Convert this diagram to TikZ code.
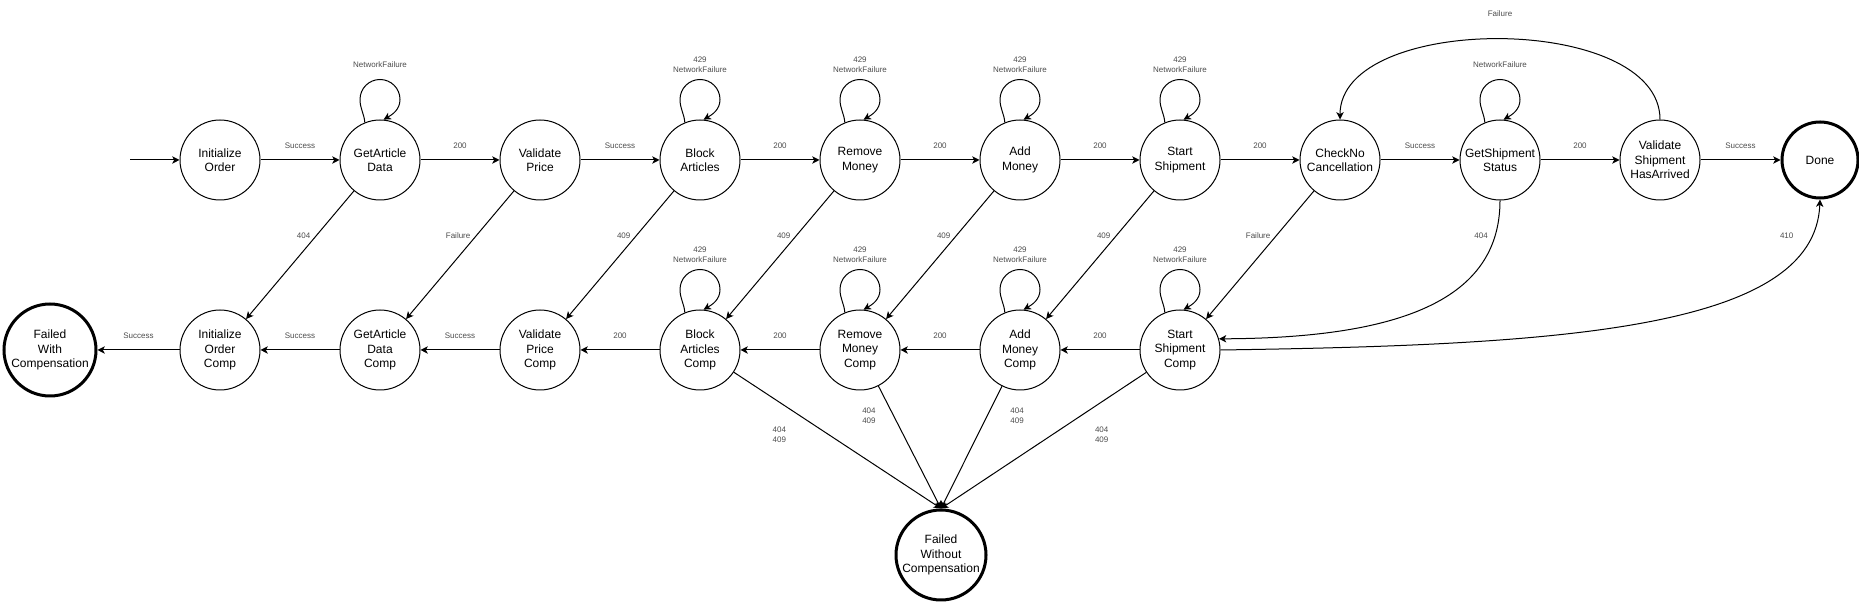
\documentclass[tikz,border=0pt]{standalone}
\usepackage{fontspec}
\setmainfont{Liberation Sans}
\usepackage{tikz}
\usetikzlibrary{arrows.meta}

\begin{document}
\begin{tikzpicture}[x=0.75pt,y=0.75pt,line width=0.75pt,
    state/.style={draw,circle,minimum size=60pt,inner sep=0pt,align=center,font=\fontsize{9}{10.8}\selectfont},
    final/.style={state,line width=2.25pt},
    lbl/.style={font=\fontsize{6}{7.5}\selectfont,text=black!70,align=center,inner sep=1pt},
    >={Stealth[length=5.5pt,width=5.5pt,inset=1.5pt]}]
    \useasboundingbox (0,0) rectangle (1859,602);
    % top row
    \node[state] (1) at (220,442) {Initialize\\Order};
    \node[state] (2) at (380,442) {GetArticle\\Data};
    \node[state] (3) at (540,442) {Validate\\Price};
    \node[state] (4) at (700,442) {Block\\Articles};
    \node[state] (5) at (860,442) {Remove\\Money};
    \node[state] (6) at (1020,442) {Add\\Money};
    \node[state] (7) at (1180,442) {Start\\Shipment};
    \node[state] (8) at (1340,442) {CheckNo\\Cancellation};
    \node[state] (9) at (1500,442) {GetShipment\\Status};
    \node[state] (10) at (1660,442) {Validate\\Shipment\\HasArrived};
    \node[final,minimum size=57pt] (11) at (1820,442) {Done};
    % bottom row
    \node[final,minimum size=69pt] (12) at (50,252) {Failed\\With\\Compensation};
    \node[state] (13) at (220,252) {Initialize\\Order\\Comp};
    \node[state] (14) at (380,252) {GetArticle\\Data\\Comp};
    \node[state] (15) at (540,252) {Validate\\Price\\Comp};
    \node[state] (16) at (700,252) {Block\\Articles\\Comp};
    \node[state] (17) at (860,252) {Remove\\Money\\Comp};
    \node[state] (18) at (1020,252) {Add\\Money\\Comp};
    \node[state] (19) at (1180,252) {Start\\Shipment\\Comp};
    \node[final,minimum size=67.5pt] (20) at (941,47) {Failed\\Without\\Compensation};
    \coordinate (0) at (130,442);

    \draw[->] (0) -- (1);
    \draw[->] (1) -- node[lbl,yshift=11pt] {Success} (2);
    \draw[->] (2) -- node[lbl,yshift=11pt] {200} (3);
    \draw[->] (3) -- node[lbl,yshift=11pt] {Success} (4);
    \draw[->] (4) -- node[lbl,yshift=11pt] {200} (5);
    \draw[->] (5) -- node[lbl,yshift=11pt] {200} (6);
    \draw[->] (6) -- node[lbl,yshift=11pt] {200} (7);
    \draw[->] (7) -- node[lbl,yshift=11pt] {200} (8);
    \draw[->] (8) -- node[lbl,yshift=11pt] {Success} (9);
    \draw[->] (9) -- node[lbl,yshift=11pt] {200} (10);
    \draw[->] (10) -- node[lbl,yshift=11pt] {Success} (11);

    \draw[->] (13) -- node[lbl,yshift=11pt] {Success} (12);
    \draw[->] (14) -- node[lbl,yshift=11pt] {Success} (13);
    \draw[->] (15) -- node[lbl,yshift=11pt] {Success} (14);
    \draw[->] (16) -- node[lbl,yshift=11pt] {200} (15);
    \draw[->] (17) -- node[lbl,yshift=11pt] {200} (16);
    \draw[->] (18) -- node[lbl,yshift=11pt] {200} (17);
    \draw[->] (19) -- node[lbl,yshift=11pt] {200} (18);

    \draw[->] (2) -- node[lbl,pos=0.35,left=3pt] {404} (13);
    \draw[->] (3) -- node[lbl,pos=0.35,left=3pt] {Failure} (14);
    \draw[->] (4) -- node[lbl,pos=0.35,left=3pt] {409} (15);
    \draw[->] (5) -- node[lbl,pos=0.35,left=3pt] {409} (16);
    \draw[->] (6) -- node[lbl,pos=0.35,left=3pt] {409} (17);
    \draw[->] (7) -- node[lbl,pos=0.35,left=3pt] {409} (18);
    \draw[->] (8) -- node[lbl,pos=0.35,left=3pt] {Failure} (19);

    \draw[->] (16) -- node[lbl,pos=0.46,left=31pt] {404\\409} (20.north);
    \draw[->] (17) -- node[lbl,pos=0.24,left=12pt] {404\\409} (20.north);
    \draw[->] (18) -- node[lbl,pos=0.24,right=16pt] {404\\409} (20.north);
    \draw[->] (19) -- node[lbl,pos=0.46,right=31pt] {404\\409} (20.north);

    \draw[->] (10.north) .. controls +(0,107) and +(0,107) .. (8.north) node[lbl,pos=0.5,yshift=19pt] {Failure};
    \draw[->] (9.south) .. controls (1500,302) and (1400,264) .. (19.16) node[lbl,pos=0.13,left=4pt] {404};
    \draw[->] (19.east) .. controls (1560,257) and (1815,272) .. (11.south) node[lbl,pos=0.9,left=12pt] {410};

    % retry loops
    \foreach \n/\t in {2/NetworkFailure,4/{429\\NetworkFailure},5/{429\\NetworkFailure},6/{429\\NetworkFailure},7/{429\\NetworkFailure},9/NetworkFailure,16/{429\\NetworkFailure},17/{429\\NetworkFailure},18/{429\\NetworkFailure},19/{429\\NetworkFailure}}
        \draw[->] (\n.112) to[out=95,in=-90] ([xshift=-15pt,yshift=15pt]\n.north)
            to[out=90,in=180] ([yshift=30pt]\n.north) node[lbl,yshift=11pt] {\t}
            to[out=0,in=90] ([xshift=15pt,yshift=15pt]\n.north)
            to[out=-90,in=30] (\n.85);
\end{tikzpicture}
\end{document}
